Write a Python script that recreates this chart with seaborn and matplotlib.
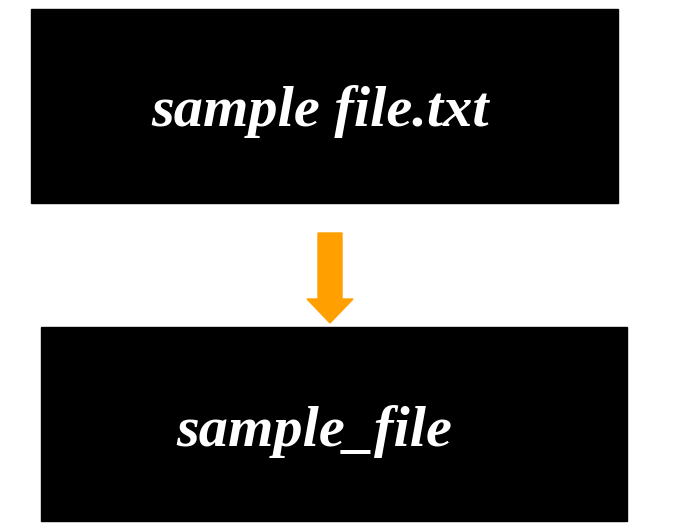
import matplotlib
matplotlib.use("Agg")
import matplotlib.pyplot as plt
import matplotlib.patches as mpatches
import seaborn as sns

sns.set_style("white")

labels = ["sample file.txt", "sample_file"]
box_x = [31, 41]
box_y = [9, 327]
box_w = [587, 586]
box_h = [194, 194]
text_x = [320, 314]
text_y = [112, 432]

fig = plt.figure(figsize=(6.77, 5.31), dpi=100)
ax = fig.add_axes([0, 0, 1, 1])
ax.set_xlim(0, 677)
ax.set_ylim(531, 0)
ax.axis("off")

for lab, x, y, w, h, tx, ty in zip(labels, box_x, box_y, box_w, box_h, text_x, text_y):
    ax.add_patch(mpatches.Rectangle((x, y), w, h, color="black"))
    ax.text(tx, ty, lab, color="white", fontsize=42,
            fontweight="bold", fontstyle="italic", family="Liberation Serif",
            ha="center", va="center")

ax.add_patch(mpatches.FancyArrow(330, 233, 0, 90, width=24, head_width=46,
                                 head_length=24, length_includes_head=True,
                                 color="#FFA000"))

fig.savefig("out.png", dpi=100)
